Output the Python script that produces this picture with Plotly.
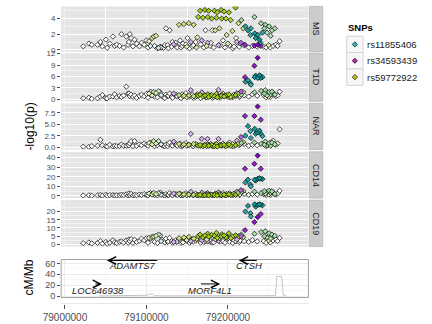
import plotly.graph_objects as go

W, H = 432, 324
MB79 = 79_000_000  # chr15 positions below are kb offsets from 79.0 Mb

# ---------------- association results ----------------
snp_kb = [22.4, 29.4, 32.9, 40.0, 43.5, 45.9, 50.2, 51.8, 55.0, 58.8,
          61.0, 63.5, 67.0, 69.4, 72.0, 75.3, 77.6, 78.5, 79.6, 81.2,
          83.5, 85.5, 88.0, 91.4, 94.0, 97.3, 100.0, 102.0, 103.2, 105.0,
          107.0, 109.0, 110.0, 111.8, 113.5, 114.9, 117.0, 118.0, 119.0, 121.0,
          122.5, 124.0, 126.0, 127.0, 128.5, 131.0, 132.0, 133.5, 136.0, 137.0,
          138.0, 140.0, 141.5, 142.5, 144.0, 145.0, 146.0, 148.5, 149.5, 150.5,
          152.0, 153.0, 154.5, 156.5, 157.5, 158.0, 160.5, 161.5, 162.5, 163.5,
          165.9, 166.5, 168.0, 169.4, 170.5, 171.8, 172.5, 174.0, 175.0, 175.3,
          176.5, 178.0, 179.0, 180.0, 181.0, 182.5, 183.5, 184.5, 185.9, 187.0,
          188.5, 189.5, 190.5, 191.8, 192.5, 194.0, 195.3, 196.5, 197.6, 198.5,
          200.0, 201.2, 202.0, 203.5, 205.5, 206.0, 207.5, 209.4, 210.0, 211.0,
          213.0, 214.0, 215.0, 216.0, 216.5, 218.8, 220.0, 221.0, 221.5, 224.7,
          225.5, 227.6, 228.2, 230.0, 232.5, 232.6, 232.9, 234.1, 236.0, 236.5,
          236.8, 238.8, 240.0, 240.4, 240.8, 242.4, 244.0, 244.7, 245.9, 247.0,
          248.0, 250.0, 250.6, 252.0, 252.5, 254.1, 255.5, 257.6, 259.0, 261.0,
          263.5]

# lead SNP each marker is most strongly linked to (t/p/l), g = mixed, w = none
snp_ld_group = ['w', 'w', 'w', 'w', 'w', 'w', 'w', 'w', 'w', 'w',
                'w', 'w', 'w', 'w', 'w', 'w', 'w', 'w', 'w', 'w',
                'w', 'w', 'w', 'w', 'w', 'w', 'w', 'w', 'l', 't',
                'l', 'l', 'w', 'l', 'w', 't', 't', 't', 'w', 'w',
                'w', 'w', 'w', 'w', 'w', 'w', 'w', 'p', 'w', 'w',
                'w', 'l', 'w', 'w', 'w', 'w', 'l', 'w', 'l', 'w',
                'l', 'w', 'p', 'w', 'w', 'l', 'w', 'l', 'l', 'l',
                'l', 'w', 'p', 'l', 'w', 'l', 'w', 'l', 'p', 'l',
                'l', 'w', 'w', 'l', 'w', 'w', 'l', 'l', 'l', 'l',
                'p', 'l', 'w', 'l', 'l', 'w', 'l', 'w', 'l', 'l',
                'l', 'l', 'w', 'l', 'l', 'w', 'w', 'l', 'w', 'p',
                'l', 'w', 'w', 'p', 'g', 'l', 'w', 'p', 't', 't',
                'w', 't', 't', 'w', 'p', 'g', 't', 't', 'w', 'p',
                't', 't', 't', 'p', 'g', 't', 'w', 'g', 'g', 'w',
                'g', 'l', 'g', 'w', 'g', 'g', 'w', 'g', 'w', 'w',
                'w']

snp_r2 = [0, 0, 0, 0, 0, 0, 0, 0, 0, 0,
          0, 0, 0, 0, 0, 0, 0, 0, 0, 0,
          0, 0, 0, 0, 0, 0, 0, 0, 0.25, 0.20,
          0.30, 0.35, 0, 0.35, 0, 0.20, 0.15, 0.15, 0, 0,
          0, 0, 0, 0, 0, 0, 0, 0.30, 0, 0,
          0, 0.50, 0, 0, 0, 0, 0.50, 0, 0.30, 0,
          0.55, 0, 0.30, 0, 0, 0.50, 0, 0.35, 0.30, 0.85,
          0.90, 0, 0.35, 0.85, 0, 0.95, 0, 0.35, 0.30, 0.90,
          0.95, 0, 0, 0.85, 0, 0, 0.90, 0.40, 0.85, 0.90,
          0.30, 0.40, 0, 0.90, 0.85, 0, 0.90, 0, 0.85, 0.40,
          0.35, 0.90, 0, 0.80, 0.45, 0, 0, 1.00, 0, 0.30,
          0.50, 0, 0, 0.60, 0.55, 0.50, 0, 0.85, 0.85, 0.90,
          0, 0.80, 0.80, 0, 0.90, 0.50, 0.95, 0.90, 0, 1.00,
          0.95, 1.00, 0.90, 0.85, 0.50, 0.85, 0, 0.55, 0.50, 0,
          0.45, 0.30, 0.50, 0, 0.45, 0.50, 0, 0.50, 0, 0,
          0]

ms = [0.45, 0.80, 0.65, 0.65, 1.00, 0.45, 1.30, 0.25, 0.80, 1.70,
      0.50, 0.65, 0.50, 2.00, 0.30, 1.70, 0.65, 1.00, 2.00, 1.50,
      0.45, 1.30, 0.80, 0.45, 0.90, 0.65, 1.20, 0.30, 1.10, 0.50,
      1.50, 1.70, 0.50, 1.80, 0.20, 0.25, 0.40, 0.30, 0.30, 0.25,
      0.60, 2.75, 0.60, 0.20, 2.50, 0.40, 1.00, 0.70, 0.90, 0.50,
      0.30, 3.20, 1.20, 0.30, 0.50, 0.80, 3.30, 0.70, 0.40, 1.50,
      3.40, 0.20, 1.00, 0.40, 0.60, 3.20, 1.00, 0.30, 1.60, 4.20,
      5.00, 0.70, 1.20, 4.10, 0.30, 5.10, 2.50, 0.50, 0.90, 4.20,
      5.00, 0.50, 0.90, 4.00, 2.50, 0.30, 5.00, 2.50, 4.10, 4.80,
      0.60, 2.75, 0.60, 5.10, 4.00, 1.20, 4.90, 0.30, 4.00, 1.90,
      0.80, 4.80, 0.60, 3.80, 2.40, 0.20, 0.40, 5.40, 1.50, 1.00,
      3.40, 0.40, 0.80, 0.90, 3.80, 2.75, 0.60, 0.65, 3.00, 2.50,
      0.30, 1.90, 2.75, 0.50, 0.55, 4.20, 2.10, 1.50, 0.40, 0.65,
      1.90, 1.30, 0.90, 0.50, 3.40, 2.20, 0.40, 2.75, 3.20, 0.30,
      2.20, 0.60, 3.00, 0.30, 1.80, 2.50, 0.50, 2.75, 0.65, 0.50,
      1.10]

t1d = [0.25, 0.40, 0.10, 0.25, 0.70, 1.10, 0.30, 0.25, 0.70, 0.70,
       1.30, 0.50, 0.90, 0.60, 1.00, 3.30, 1.50, 1.50, 0.80, 1.20,
       0.60, 1.00, 0.40, 0.90, 1.20, 0.80, 1.40, 0.40, 1.50, 2.00,
       1.00, 1.90, 0.70, 1.60, 0.50, 2.10, 1.80, 1.10, 0.90, 0.50,
       0.30, 1.20, 0.80, 0.90, 1.50, 0.60, 0.40, 1.50, 1.00, 1.10,
       0.70, 1.10, 0.50, 0.30, 1.30, 0.80, 0.90, 1.60, 0.50, 0.80,
       1.00, 0.70, 2.40, 1.20, 0.40, 0.80, 0.60, 0.90, 1.30, 0.90,
       1.20, 0.30, 1.80, 0.70, 0.80, 1.00, 0.50, 0.50, 1.20, 1.30,
       0.60, 0.90, 1.00, 1.10, 0.40, 0.60, 0.80, 0.90, 1.40, 0.50,
       2.50, 0.70, 0.40, 0.90, 1.20, 1.50, 0.70, 0.90, 1.00, 1.00,
       0.60, 1.30, 0.60, 0.60, 0.80, 0.50, 1.20, 1.10, 0.90, 1.60,
       1.40, 0.60, 0.80, 2.00, 1.20, 1.90, 1.00, 5.80, 4.60, 5.00,
       0.70, 4.20, 3.80, 1.30, 8.80, 1.80, 5.80, 6.20, 0.90, 10.90,
       5.60, 6.30, 5.60, 6.00, 2.20, 5.80, 1.10, 1.50, 2.40, 0.50,
       1.00, 0.70, 1.90, 0.60, 1.30, 2.00, 1.60, 1.20, 0.80, 1.00,
       2.00]

nar = [0.10, 0.05, 0.20, 0.30, 1.60, 0.40, 0.20, 0.10, 0.50, 0.15,
       0.30, 0.20, 0.25, 0.60, 0.30, 0.30, 0.50, 0.40, 0.80, 1.30,
       0.20, 1.30, 0.30, 0.60, 0.40, 0.80, 0.50, 0.30, 0.90, 1.00,
       0.60, 1.30, 0.20, 0.80, 0.40, 1.30, 0.70, 0.60, 0.50, 0.30,
       0.20, 0.60, 0.20, 0.70, 1.00, 0.40, 0.30, 1.20, 0.50, 0.60,
       0.30, 0.70, 0.80, 0.20, 0.30, 0.40, 0.60, 0.90, 0.30, 0.40,
       0.50, 0.50, 2.90, 0.30, 0.20, 0.70, 0.60, 0.60, 0.40, 0.30,
       0.50, 0.30, 1.80, 0.20, 0.40, 0.40, 0.60, 0.20, 1.80, 0.60,
       0.30, 0.50, 0.70, 0.50, 0.20, 0.30, 0.20, 0.60, 0.70, 0.10,
       1.80, 0.40, 0.50, 0.40, 0.30, 0.80, 0.50, 0.30, 0.20, 0.50,
       0.40, 0.60, 1.00, 0.30, 0.70, 0.20, 0.30, 0.40, 0.60, 1.40,
       0.80, 0.40, 0.60, 2.20, 0.90, 1.10, 0.70, 6.80, 2.50, 4.60,
       0.30, 3.50, 2.00, 0.50, 6.80, 1.00, 4.00, 2.90, 0.40, 8.90,
       3.20, 3.60, 3.00, 6.00, 0.70, 2.40, 0.80, 0.50, 1.20, 0.20,
       0.40, 0.50, 0.90, 0.60, 0.30, 1.00, 1.40, 0.60, 0.50, 0.80,
       3.90]

cd14 = [0.5, 0.8, 0.3, 0.6, 1.2, 0.4, 1.5, 0.2, 0.9, 1.0,
        0.5, 0.7, 0.6, 1.4, 0.8, 1.8, 0.6, 2.6, 1.0, 2.2,
        0.5, 1.2, 0.7, 1.5, 1.0, 2.0, 1.2, 0.6, 2.5, 3.0,
        1.6, 3.2, 0.9, 2.0, 0.5, 2.8, 3.5, 1.2, 1.8, 1.0,
        0.4, 2.0, 0.8, 1.1, 3.0, 1.5, 0.7, 2.5, 1.8, 1.6,
        1.0, 2.2, 2.6, 0.5, 1.2, 0.9, 1.8, 3.0, 0.8, 1.4,
        1.5, 1.3, 4.4, 2.0, 0.6, 1.2, 2.4, 1.0, 1.0, 0.8,
        1.2, 0.5, 3.5, 0.6, 1.2, 1.0, 2.0, 0.7, 3.0, 1.5,
        0.7, 1.6, 1.5, 1.3, 0.8, 0.6, 0.9, 2.5, 2.0, 0.5,
        3.8, 1.8, 1.0, 1.1, 0.8, 3.0, 1.4, 0.8, 0.6, 2.2,
        1.3, 1.8, 2.8, 0.9, 1.5, 0.5, 2.4, 1.2, 1.8, 4.5,
        3.5, 0.9, 1.6, 6.0, 4.0, 5.0, 2.2, 28.4, 14.0, 17.0,
        1.2, 12.0, 10.0, 2.0, 33.5, 4.5, 17.0, 16.0, 1.4, 42.0,
        18.0, 18.5, 18.0, 28.4, 3.0, 17.5, 2.0, 5.0, 2.5, 1.0,
        4.0, 1.5, 5.5, 1.0, 3.2, 4.8, 3.8, 2.0, 1.5, 2.5,
        5.4]

cd19 = [0.8, 1.2, 0.6, 0.9, 2.0, 0.5, 1.5, 0.4, 1.0, 2.5,
        1.2, 0.8, 1.6, 1.8, 1.1, 2.4, 1.0, 3.0, 2.0, 3.2,
        0.9, 2.8, 1.5, 2.2, 3.5, 2.6, 3.8, 1.0, 4.0, 3.5,
        4.5, 4.8, 1.5, 5.2, 0.8, 6.0, 5.5, 2.0, 3.0, 2.0,
        1.2, 3.5, 1.5, 1.8, 4.0, 2.0, 1.0, 1.5, 2.5, 1.4,
        1.8, 3.8, 2.2, 0.9, 1.6, 1.3, 4.2, 2.8, 2.6, 2.0,
        4.6, 1.0, 2.0, 3.2, 1.7, 3.5, 2.4, 3.4, 3.0, 5.0,
        6.0, 1.1, 2.5, 4.5, 1.4, 5.5, 2.0, 3.0, 1.8, 6.5,
        4.8, 1.5, 2.0, 5.8, 1.2, 1.2, 5.2, 3.2, 7.0, 4.0,
        2.2, 3.8, 1.6, 5.0, 6.2, 2.0, 5.5, 1.0, 4.4, 4.2,
        3.6, 6.8, 1.6, 3.8, 4.8, 0.9, 2.6, 5.6, 1.8, 3.0,
        5.0, 1.4, 2.2, 5.0, 6.0, 4.5, 2.0, 8.7, 20.0, 23.4,
        1.5, 19.0, 17.0, 2.6, 13.6, 6.5, 24.4, 23.0, 1.8, 16.6,
        24.0, 24.4, 24.2, 18.5, 7.5, 23.8, 2.0, 5.0, 8.0, 1.0,
        4.2, 2.5, 6.8, 1.2, 3.6, 6.0, 2.4, 5.2, 3.0, 2.0,
        4.0]

traits = ["MS", "T1D", "NAR", "CD14", "CD19"]
trait_values = [ms, t1d, nar, cd14, cd19]

lead_snps = ["rs11855406", "rs34593439", "rs59772922"]
lead_key_colours = ["#1DC6C6", "#C41DC4", "#C6C61D"]

# ---------------- recombination rate ----------------
recomb_kb = [42, 60, 80, 95, 100, 104, 107, 110, 118, 140,
             170, 200, 225, 245, 256, 258.5, 260, 266, 268, 272]
recomb_rate = [0.4, 0.5, 0.6, 0.8, 1.5, 3.0, 4.5, 1.0, 0.4, 0.5,
               0.4, 0.3, 0.3, 0.4, 0.6, 0.9, 36.0, 36.0, 0.8, 0.5]

# ---------------- genes ----------------
gene_names = ["LOC646938", "ADAMTS7", "MORF4L1", "CTSH"]
gene_start_kb = [35.5, 51.5, 165.1, 213.4]
gene_end_kb = [45.5, 115.0, 190.5, 237.4]
gene_strand = ["+", "-", "+", "-"]
gene_row = [1, 0, 1, 0]

x_ticks_kb = [0, 100, 200]

# ---------------- styling helpers ----------------
FONT = "Liberation Sans, Arial, sans-serif"
TICK_COL = "#4D4D4D"
ld_base = {"t": (0, 153, 153), "p": (136, 0, 204), "l": (153, 204, 0),
           "g": (84, 186, 84), "w": (255, 255, 255)}


def ld_colour(group, r2):
    base = ld_base[group]
    r, g, b = (round(255 + (c - 255) * r2) for c in base)
    return f"rgb({r},{g},{b})"


def fx(p):  # pixel column -> paper x
    return p / W


def fy(p):  # pixel row -> paper y
    return 1 - p / H


def bp(kb):
    return MB79 + kb * 1000


X_L, X_R = 45, 303
x_range = [bp(-4.7), bp(298.8)]

facet_top = [2.5, 50.5, 101.8, 151.5, 201.0]
facet_bot = [49.0, 99.8, 149.3, 199.0, 248.7]
facet_range = [(-0.25, 5.55), (-0.55, 12.1), (-0.55, 9.6), (-2.2, 46.0), (-1.3, 27.0)]
facet_ticks = [[0, 2, 4], [0, 3, 6, 9, 12], [0, 2.5, 5, 7.5], [0, 10, 20, 30, 40], [0, 5, 10, 15, 20]]
facet_ticktext = [["0", "2", "4"], ["0", "3", "6", "9", "12"], ["0.0", "2.5", "5.0", "7.5"],
                  ["0", "10", "20", "30", "40"], ["0", "5", "10", "15", "20"]]
facet_minor = [[1, 3, 5], [1.5, 4.5, 7.5, 10.5], [1.25, 3.75, 6.25, 8.75],
               [5, 15, 25, 35, 45], [2.5, 7.5, 12.5, 17.5, 22.5]]

fig = go.Figure()
layout = dict(width=W, height=H, margin=dict(l=0, r=0, t=0, b=0),
              paper_bgcolor="white", plot_bgcolor="#E5E5E5",
              font=dict(family=FONT, size=9, color=TICK_COL), showlegend=False)
shapes = []
annotations = []

colours = [ld_colour(g, r) for g, r in zip(snp_ld_group, snp_r2)]
order = sorted(range(len(snp_kb)), key=lambda k: snp_r2[k])
xs = [bp(snp_kb[k]) for k in order]

for i, (name, vals) in enumerate(zip(traits, trait_values)):
    sfx = "" if i == 0 else str(i + 1)
    fig.add_trace(go.Scatter(
        x=xs, y=[vals[k] for k in order], mode="markers",
        marker=dict(symbol="diamond", size=4, color=[colours[k] for k in order],
                    line=dict(color="black", width=0.7)),
        xaxis="x" + sfx, yaxis="y" + sfx, hoverinfo="skip"))
    layout["xaxis" + sfx] = dict(
        domain=[fx(X_L), fx(X_R)], range=x_range, anchor="y" + sfx,
        showticklabels=False, ticks="", zeroline=False, showline=False,
        tickvals=[bp(50), bp(150), bp(250)], showgrid=True, gridcolor="white", gridwidth=1,
        minor=dict(tickvals=[bp(0), bp(100), bp(200)], showgrid=True,
                   gridcolor="#F2F2F2", gridwidth=0.5))
    layout["yaxis" + sfx] = dict(
        domain=[fy(facet_bot[i]), fy(facet_top[i])], range=list(facet_range[i]),
        anchor="x" + sfx, tickvals=facet_ticks[i], ticktext=facet_ticktext[i],
        ticks="outside", ticklen=3, tickwidth=1, tickcolor=TICK_COL,
        tickfont=dict(size=8, color=TICK_COL), zeroline=False, showline=False,
        showgrid=True, gridcolor="white", gridwidth=1,
        minor=dict(tickvals=facet_minor[i], showgrid=True, gridcolor="#F2F2F2", gridwidth=0.5))
    # facet strip on the right
    shapes.append(dict(type="rect", xref="paper", yref="paper",
                       x0=fx(304), x1=fx(318), y0=fy(facet_bot[i]), y1=fy(facet_top[i]),
                       fillcolor="#CCCCCC", line=dict(color="#A9A9A9", width=0.6), layer="above"))
    annotations.append(dict(xref="paper", yref="paper", x=fx(311),
                            y=fy((facet_top[i] + facet_bot[i]) / 2), text=name, showarrow=False,
                            xanchor="center", yanchor="middle",
                            textangle=90, font=dict(size=9, color="#1A1A1A")))

# recombination panel
R_TOP, R_BOT = 262, 301
shapes.append(dict(type="rect", xref="paper", yref="paper", x0=fx(X_L), x1=fx(X_R),
                   y0=fy(R_BOT), y1=fy(R_TOP), fillcolor="white", line=dict(width=0),
                   layer="below"))
shapes.append(dict(type="rect", xref="paper", yref="paper", x0=fx(X_L), x1=fx(X_R),
                   y0=fy(R_BOT), y1=fy(R_TOP), fillcolor="rgba(0,0,0,0)",
                   line=dict(color="#A0A0A0", width=1), layer="above"))
fig.add_trace(go.Scatter(x=[bp(k) for k in recomb_kb], y=recomb_rate, mode="lines",
                         line=dict(color="#C4C4C4", width=1), xaxis="x6", yaxis="y6",
                         hoverinfo="skip"))
layout["xaxis6"] = dict(domain=[fx(X_L), fx(X_R)], range=x_range, anchor="y6",
                        showticklabels=False, ticks="", zeroline=False, showline=False,
                        tickvals=[bp(k) for k in x_ticks_kb], showgrid=True,
                        gridcolor="#EBEBEB", gridwidth=1,
                        minor=dict(tickvals=[bp(50), bp(150), bp(250)], showgrid=True,
                                   gridcolor="#F7F7F7", gridwidth=0.5))
layout["yaxis6"] = dict(domain=[fy(R_BOT), fy(R_TOP)], range=[-2.7, 67.2], anchor="x6",
                        tickvals=[0, 20, 40, 60], ticks="outside", ticklen=3, tickwidth=1,
                        tickcolor=TICK_COL, tickfont=dict(size=9, color=TICK_COL),
                        zeroline=False, showline=False, showgrid=True, gridcolor="#EBEBEB",
                        gridwidth=1, minor=dict(tickvals=[10, 30, 50], showgrid=True,
                                                gridcolor="#F7F7F7", gridwidth=0.5))

# genes: arrows with italic names
row_arrow_y = [65.5, 22.4]
row_label_y = [55.5, 9.9]
for g, s, e, strand, row in zip(gene_names, gene_start_kb, gene_end_kb, gene_strand, gene_row):
    head, tail = (e, s) if strand == "+" else (s, e)
    annotations.append(dict(x=bp(head), y=row_arrow_y[row], ax=bp(tail), ay=row_arrow_y[row],
                            xref="x6", yref="y6", axref="x6", ayref="y6", text="",
                            showarrow=True, arrowhead=5, arrowsize=1.5, arrowwidth=1,
                            arrowcolor="black", standoff=0, startstandoff=0))
    annotations.append(dict(x=bp((s + e) / 2), y=row_label_y[row], xref="x6", yref="y6",
                            text=f"<i>{g}</i>", showarrow=False,
                            xanchor="center", yanchor="middle",
                            font=dict(size=9.5, color="#1A1A1A")))

# genomic position axis
fig.add_trace(go.Scatter(x=[None], y=[None], xaxis="x7", yaxis="y7", hoverinfo="skip"))
layout["xaxis7"] = dict(domain=[fx(X_L), fx(X_R)], range=x_range, anchor="y7",
                        tickvals=[bp(k) for k in x_ticks_kb],
                        ticktext=[str(bp(k)) for k in x_ticks_kb],
                        ticks="outside", ticklen=4, tickwidth=1, tickcolor=TICK_COL,
                        tickfont=dict(size=10, color=TICK_COL), showgrid=False,
                        zeroline=False, showline=False)
layout["yaxis7"] = dict(domain=[fy(307.5), fy(306.5)], range=[0, 1], anchor="x7",
                        visible=False)

# axis titles
annotations.append(dict(xref="paper", yref="paper", x=fx(12), y=fy(126), text="-log10(p)",
                        showarrow=False, textangle=-90, xanchor="center", yanchor="middle",
                        font=dict(size=12, color="black")))
annotations.append(dict(xref="paper", yref="paper", x=fx(12), y=fy(281), text="cM/Mb",
                        showarrow=False, textangle=-90, xanchor="center", yanchor="middle",
                        font=dict(size=12, color="black")))

# legend for lead SNPs
KEY_L, KEY_R, KEY_T, KEY_S = 343, 360, 33, 16.8
for j, snp in enumerate(lead_snps):
    y0 = KEY_T + j * KEY_S
    shapes.append(dict(type="rect", xref="paper", yref="paper", x0=fx(KEY_L), x1=fx(KEY_R),
                       y0=fy(y0 + KEY_S), y1=fy(y0), fillcolor="#F7F7F7",
                       line=dict(color="#D4D4D4", width=1), layer="below"))
    annotations.append(dict(xref="paper", yref="paper", x=fx(362), y=fy(y0 + KEY_S / 2),
                            text=snp, showarrow=False, xanchor="left", yanchor="middle",
                            font=dict(size=9.5, color="#1A1A1A")))
fig.add_trace(go.Scatter(x=[0, 0, 0], y=lead_snps, mode="markers", xaxis="x8", yaxis="y8",
                         marker=dict(symbol="diamond", size=4, color=lead_key_colours,
                                     line=dict(color="black", width=0.7)), hoverinfo="skip"))
layout["xaxis8"] = dict(domain=[fx(KEY_L), fx(KEY_R)], range=[-1, 1], anchor="y8", visible=False)
layout["yaxis8"] = dict(domain=[fy(KEY_T + 3 * KEY_S), fy(KEY_T)], range=[2.5, -0.5],
                        type="category", anchor="x8", visible=False)
annotations.append(dict(xref="paper", yref="paper", x=fx(342), y=fy(24), text="<b>SNPs</b>",
                        showarrow=False, xanchor="left", yanchor="middle",
                        font=dict(size=9.5, color="black")))

layout["shapes"] = shapes
layout["annotations"] = annotations
fig.update_layout(**layout)
fig.write_html("out.html")
